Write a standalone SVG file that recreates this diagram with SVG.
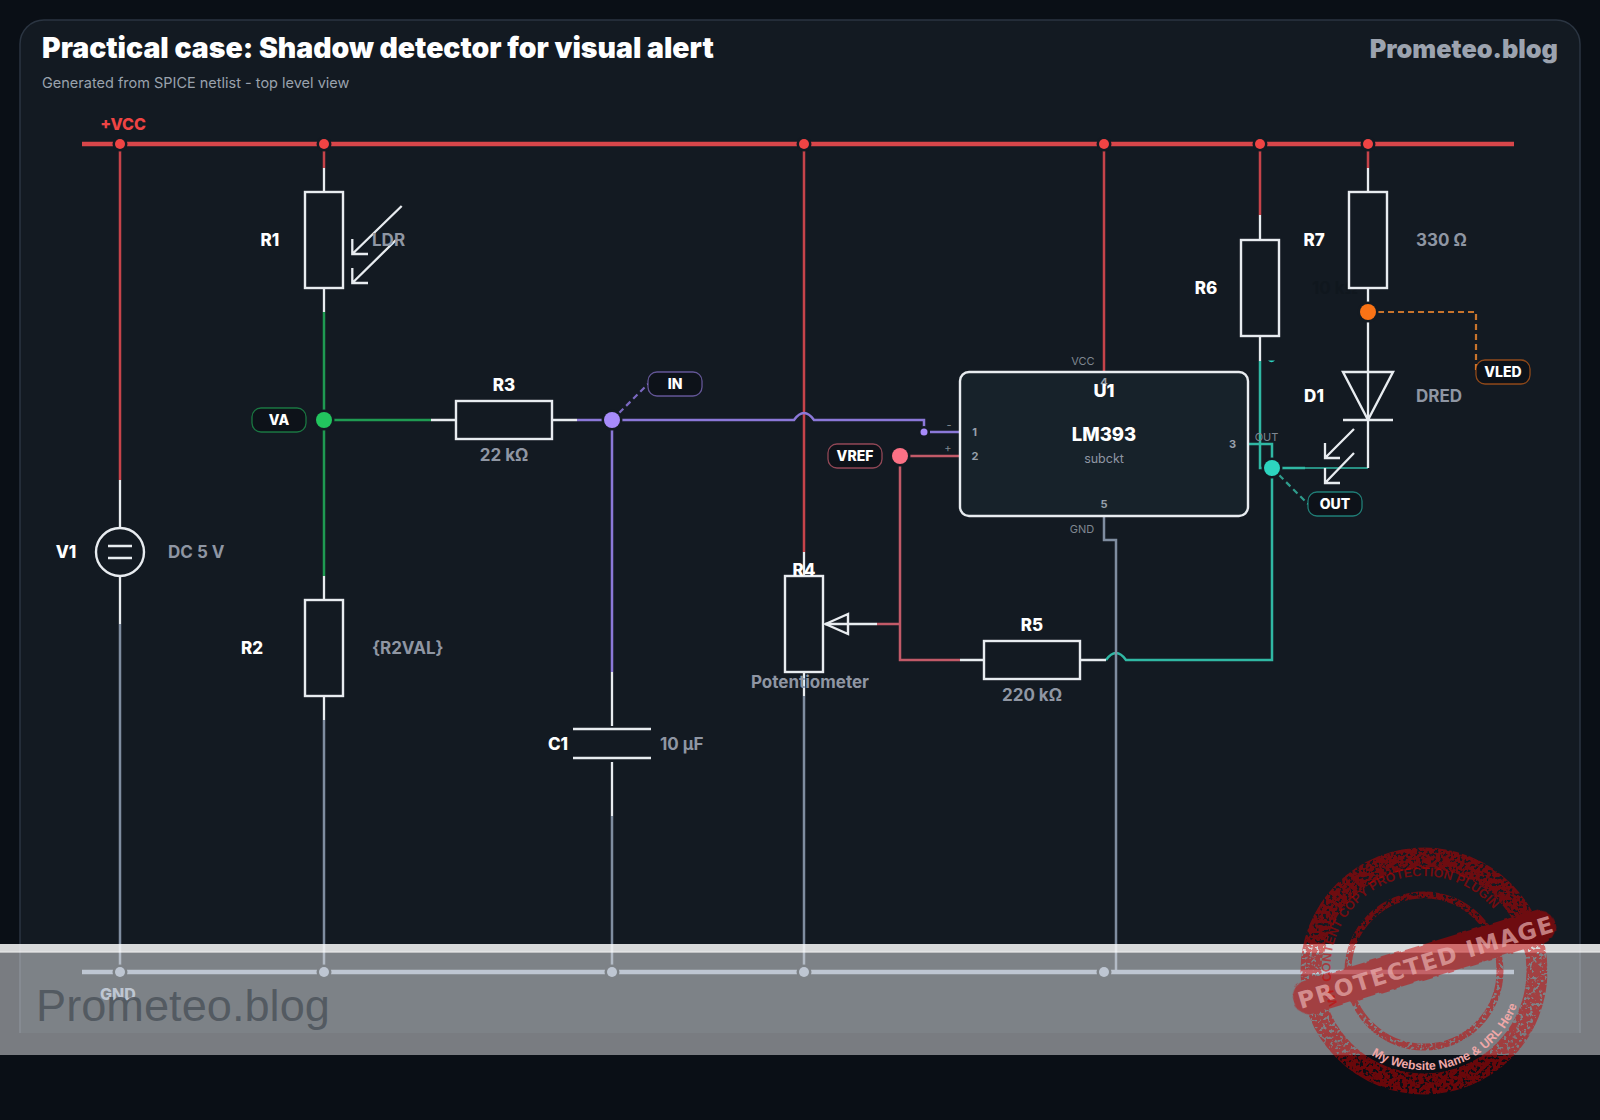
<svg xmlns="http://www.w3.org/2000/svg" width="1600" height="1120" viewBox="0 0 1600 1120">
<defs>
<style>
text{font-family:Inter,"Liberation Sans",sans-serif}
.sym{fill:none;stroke:#e8ecf0;stroke-width:2.4}
.lead{fill:none;stroke:#e8ecf0;stroke-width:2.3}
.lab{font-size:17px;font-weight:800;fill:#fff;text-anchor:middle;dominant-baseline:central}
.val{font-size:17px;font-weight:700;fill:#8f96a3;dominant-baseline:central}
.mid{text-anchor:middle}
.pin{font-size:11px;font-weight:700;fill:#98a0ab;text-anchor:middle;dominant-baseline:central}
.pn{font-size:11px;fill:#7f8791;text-anchor:middle;dominant-baseline:central}
.tag{font-size:14px;font-weight:800;fill:#fff;text-anchor:middle;dominant-baseline:central}
.pill{fill:#0d1219;stroke-width:1.3;stroke-opacity:.55}
.w{fill:none;stroke-width:2.5;stroke-linejoin:miter}
.red{stroke:#c6434a}.grn{stroke:#1f9a52}.pur{stroke:#8b78d8}.pnk{stroke:#c25a68}.tea{stroke:#30b8a4}.gry{stroke:#7f8da0}
.dash{fill:none;stroke-width:2.2;stroke-dasharray:6 4}
.rn{stroke:#131a22;stroke-width:5;paint-order:stroke}
</style>
<filter id="rough" x="-10%" y="-10%" width="120%" height="120%">
<feTurbulence type="fractalNoise" baseFrequency="0.3" numOctaves="2" seed="7" result="n"/>
<feColorMatrix in="n" type="matrix" values="0 0 0 0 0 0 0 0 0 0 0 0 0 0 0 0 0 0 -9 5.900" result="m"/>
<feComposite in="SourceGraphic" in2="m" operator="in"/>
</filter>
<filter id="rough2" x="-10%" y="-10%" width="120%" height="120%">
<feTurbulence type="fractalNoise" baseFrequency="0.12" numOctaves="2" seed="3" result="n"/>
<feDisplacementMap in="SourceGraphic" in2="n" scale="4"/>
</filter>
<path id="arcTop" d="M1338 1004A92 92 0 0 1 1504 925"/>
<path id="arcBot" d="M1371.500 1055A99 99 0 0 0 1519.600 997"/>
</defs>
<rect id="page" width="1600" height="1120" fill="#0a0f16"/>
<path id="card" d="M20 1033V44A24 24 0 0 1 44 20H1556A24 24 0 0 1 1580 44V1033Z" fill="#131a22"/>
<path id="cardEdge" d="M20 1033V44A24 24 0 0 1 44 20H1556A24 24 0 0 1 1580 44V1033" fill="none" stroke="#2b3542" stroke-width="1.500"/>
<text x="42" y="58" font-size="28.400" font-weight="900" fill="#fff" id="title">Practical case: Shadow detector for visual alert</text>
<text x="42" y="88" font-size="14.500" fill="#9aa2ad" id="subtitle">Generated from SPICE netlist - top level view</text>
<text x="1558" y="58" font-size="25.300" font-weight="900" fill="#9ca3af" text-anchor="end" id="brand">Prometeo.blog</text>
<g id="connectors">
<path class="w red" d="M120 144V480M324 144V168M804 144V552M1104 144V372M1260 144V215M1368 144V168"/>
<path class="w grn" d="M324 312V576M333 420H431"/>
<path class="w pur" d="M577 420H794Q804 406 814 420H924V432M612 420V672M930 432H960"/>
<path class="w pnk" d="M910 456H960M900 456V660H960M900 624H877"/>
<path class="w tea" d="M1260 361V468H1272M1248 444H1272V468M1272 468V660H1126Q1116 646 1106 660M1282 468H1305"/>
<path fill="none" stroke="#30b8a4" stroke-width="1.500" d="M1305 468H1368"/>
<path d="M1268 360.500H1275Q1271.500 364 1268 360.500Z" fill="#2dd4bf"/>
<path class="w gry" d="M120 624V972M324 720V972M612 816V972M804 696V972M1104 516V540H1116V970"/>
<path class="dash" stroke="#7a68c0" d="M612 420L648 384"/>
<path class="dash" stroke="#2f9c8c" d="M1272 468L1308 504"/>
<path class="dash" stroke="#c8742c" d="M1378 312H1476V372"/>
<path id="railVcc" stroke="#d8464a" stroke-width="4.500" d="M82 144H1514"/>
<path id="railGnd" stroke="#94a3b8" stroke-width="4.500" d="M82 972H1514"/>
</g>
<g id="vccDots" fill="#ef4444" stroke="#131a22" stroke-width="5" paint-order="stroke">
<circle cx="120" cy="144" r="5"/><circle cx="324" cy="144" r="5"/><circle cx="804" cy="144" r="5"/><circle cx="1104" cy="144" r="5"/><circle cx="1260" cy="144" r="5"/><circle cx="1368" cy="144" r="5"/>
</g>
<g id="gndDots" fill="#94a3b8" stroke="#131a22" stroke-width="5" paint-order="stroke">
<circle cx="120" cy="972" r="5"/><circle cx="324" cy="972" r="5"/><circle cx="612" cy="972" r="5"/><circle cx="804" cy="972" r="5"/><circle cx="1104" cy="972" r="5"/>
</g>
<text id="vccLabel" x="123" y="124" font-size="16" font-weight="800" fill="#ef4444" text-anchor="middle" dominant-baseline="central">+VCC</text>
<text id="gndLabel" x="118" y="994" font-size="16" font-weight="800" fill="#94a3b8" text-anchor="middle" dominant-baseline="central">GND</text>
<g id="V1"><path class="lead" d="M120 480V528M120 576V624"/><circle class="sym" cx="120" cy="552" r="24"/><path class="sym" d="M108 546H132M108 558H132"/><text class="lab" x="66" y="552">V1</text><text class="val" x="168" y="552">DC 5 V</text></g>
<g id="R1"><path class="lead" d="M324 168V192M324 288V312"/><rect class="sym" x="305" y="192" width="38" height="96"/><path class="lead" d="M401.700 206L352.300 254M352.300 239V254H368M396 240L352.300 283M352.300 268V283H368"/><text class="lab" x="270" y="240">R1</text><text class="val" x="372" y="240">LDR</text></g>
<g id="R2"><path class="lead" d="M324 576V600M324 696V720"/><rect class="sym" x="305" y="600" width="38" height="96"/><text class="lab" x="252" y="648">R2</text><text class="val" x="372" y="648">{R2VAL}</text></g>
<g id="R3"><path class="lead" d="M431 420H456M552 420H577"/><rect class="sym" x="456" y="401" width="96" height="38"/><text class="lab" x="504" y="385">R3</text><text class="val mid" x="504" y="455">22 kΩ</text></g>
<g id="C1"><path class="lead" d="M612 672V726M612 762V816"/><path class="sym" d="M573 729H651M573 758H651"/><text class="lab" x="558" y="744">C1</text><text class="val" x="660" y="744">10 µF</text></g>
<g id="R4"><path class="lead" d="M804 552V576M804 672V696M825 624H877"/><rect class="sym" x="785" y="576" width="38" height="96"/><path class="sym" d="M825.500 624L848 614V634Z"/><text class="lab" x="804" y="570">R4</text><text class="val mid" x="810" y="682">Potentiometer</text></g>
<g id="R5"><path class="lead" d="M960 660H984M1080 660H1106"/><rect class="sym" x="984" y="641" width="96" height="38"/><text class="lab" x="1032" y="625">R5</text><text class="val mid" x="1032" y="695">220 kΩ</text></g>
<g id="R6"><path class="lead" d="M1260 215V240M1260 336V361"/><rect class="sym" x="1241" y="240" width="38" height="96"/><text class="lab" x="1206" y="288">R6</text><text x="1312" y="288" font-size="17" font-weight="700" fill="#10171e" dominant-baseline="central">10 kΩ</text></g>
<g id="R7"><path class="lead" d="M1368 168V192M1368 288V312"/><rect class="sym" x="1349" y="192" width="38" height="96" style="fill:#131a22"/><text class="lab" x="1314" y="240">R7</text><text class="val" x="1416" y="240">330 Ω</text></g>
<g id="D1"><path class="lead" d="M1368 312V468"/><path class="sym" d="M1343 372H1393L1368 420ZM1343 420H1393"/><path class="lead" d="M1354 429L1325 458M1325 443V458H1340M1354 453L1325 483M1325 468V483H1340"/><text class="lab" x="1314" y="396">D1</text><text class="val" x="1416" y="396">DRED</text></g>
<g id="U1"><rect x="960" y="372" width="288" height="144" rx="9" fill="#17222a" stroke="#e8ecf0" stroke-width="2.400"/>
<text class="pn" x="1083" y="360.500">VCC</text><text class="pin" x="1104" y="382">4</text><text class="lab" x="1104" y="390" style="font-size:18px">U1</text><text class="lab" x="1104" y="434" style="font-size:18.500px">LM393</text><text x="1104" y="458" font-size="12.500" fill="#8f96a3" text-anchor="middle" dominant-baseline="central">subckt</text>
<text class="pin" x="974.500" y="432">1</text><text class="pin" x="975" y="456">2</text><text class="pin" x="1232.500" y="444">3</text><text class="pin" x="1104" y="504">5</text><text class="pn" x="949" y="425">-</text><text class="pn" x="948" y="448">+</text><text class="pn" x="1266.500" y="437">OUT</text><text class="pn" x="1082" y="528.500">GND</text></g>
<g id="VA"><circle class="rn" cx="324" cy="420" r="8" fill="#22c55e"/><rect class="pill" stroke="#22c55e" x="252" y="408" width="54" height="24" rx="9"/><text class="tag" x="279" y="419.500">VA</text></g>
<g id="IN"><circle class="rn" cx="612" cy="420" r="8" fill="#a78bfa"/><rect class="pill" stroke="#a78bfa" x="648" y="372" width="54" height="24" rx="9"/><text class="tag" x="675" y="383.500">IN</text></g>
<g id="INdot"><circle class="rn" cx="924" cy="432" r="3.500" fill="#a78bfa"/></g>
<g id="VREF"><circle class="rn" cx="900" cy="456" r="8" fill="#fb7185"/><rect class="pill" stroke="#fb7185" x="828" y="444" width="54" height="24" rx="9"/><text class="tag" x="855" y="455.500">VREF</text></g>
<g id="OUT"><circle class="rn" cx="1272" cy="468" r="8" fill="#2dd4bf"/><rect class="pill" stroke="#2dd4bf" x="1308" y="492" width="54" height="24" rx="9"/><text class="tag" x="1335" y="503.500">OUT</text></g>
<g id="VLED"><circle class="rn" cx="1368" cy="312" r="8" fill="#f97316"/><rect class="pill" stroke="#f97316" x="1476" y="360" width="54" height="24" rx="9"/><text class="tag" x="1503" y="371.500">VLED</text></g>
<g id="band">
<rect x="0" y="944" width="1600" height="111" fill="#e8eaec" fill-opacity=".5"/>
<rect x="0" y="944" width="1600" height="8.500" fill="#fff" fill-opacity=".7"/>
<rect x="0" y="951.500" width="1600" height="1" fill="#fff" fill-opacity=".5"/>
<text x="36" y="1021" font-size="45.200" fill="#4c535b" fill-opacity=".85" style="font-family:'Liberation Sans',sans-serif">Prometeo.blog</text>
</g>
<g id="stamp">
<g opacity=".5">
<g filter="url(#rough)">
<circle cx="1424" cy="971" r="113" fill="none" stroke="#c80000" stroke-width="21"/>
<circle cx="1424" cy="971" r="76" fill="none" stroke="#c80000" stroke-width="7"/>
</g>
<rect filter="url(#rough2)" x="1288" y="945" width="272" height="34" rx="16" fill="#c80000" transform="rotate(-17 1424 962)"/>
</g>
<text font-size="12.500" font-weight="700" fill="#c80000" fill-opacity=".55" style="font-family:'Liberation Sans',sans-serif"><textPath href="#arcTop" textLength="262">WP CONTENT COPY PROTECTION PLUGIN</textPath></text>
<text transform="rotate(-17 1424 962)" x="1426" y="971" font-size="23" font-weight="700" letter-spacing="1.500" fill="#eab0b0" fill-opacity=".7" text-anchor="middle" style="font-family:'DejaVu Sans',sans-serif">PROTECTED IMAGE</text>
<text font-size="12.500" font-weight="700" fill="#f0a8a8" style="font-family:'Liberation Sans',sans-serif"><textPath href="#arcBot" textLength="176" lengthAdjust="spacingAndGlyphs">My Website Name &amp; URL Here</textPath></text>
</g>
</svg>
